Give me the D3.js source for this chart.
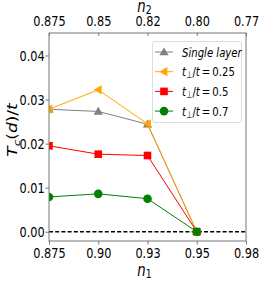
<!DOCTYPE html>
<html>
<head>
<meta charset="utf-8">
<script src="https://cdn.jsdelivr.net/npm/d3@7"></script>
<style>
  body { margin: 0; background: #fff; }
  text { font-family: "DejaVu Sans", sans-serif; }
</style>
</head>
<body>
<div id="wrapper"></div>
<script>
const n1Labels = ["0.875", "0.90", "0.93", "0.95", "0.98"];
const n2Labels = ["0.875", "0.85", "0.82", "0.80", "0.77"];
const yTicks = [0, 0.01, 0.02, 0.03, 0.04];

const singleLayer = [0.0278, 0.0273, 0.0244, 0];
const tPerp025 = [0.0278, 0.0322, 0.0245, 0];
const tPerp05 = [0.0195, 0.0176, 0.0173, 0];
const tPerp07 = [0.0079, 0.0086, 0.0075, 0];

const series = [
    { name: "single", values: singleLayer, color: "gray", marker: "up", label: "0" },
    { name: "0.25", values: tPerp025, color: "orange", marker: "left", label: "0.25" },
    { name: "0.5", values: tPerp05, color: "red", marker: "square", label: "0.5" },
    { name: "0.7", values: tPerp07, color: "green", marker: "circle", label: "0.7" }
];

const dimension = {
    width: 274,
    height: 283,
    margin: { top: 33, left: 49, bottom: 42, right: 28 }
};
dimension.boundedWidth = dimension.width - dimension.margin.left - dimension.margin.right;
dimension.boundedHeight = dimension.height - dimension.margin.top - dimension.margin.bottom;

const squeeze = 0.78;
const spineColor = "#777";

const svg = d3.select("#wrapper").append("svg")
    .attr("width", dimension.width)
    .attr("height", dimension.height);

const bounded = svg.append("g")
    .attr("transform", `translate(${dimension.margin.left},${dimension.margin.top})`);

const xScaler = d3.scalePoint()
    .domain(d3.range(n1Labels.length))
    .range([0, dimension.boundedWidth]);

const yScaler = d3.scaleLinear()
    .domain([-0.0021, 0.0451])
    .range([dimension.boundedHeight, 0]);

bounded.append("clipPath").attr("id", "clip")
    .append("rect")
    .attr("width", dimension.boundedWidth)
    .attr("height", dimension.boundedHeight);

// dashed zero line
bounded.append("line")
    .attr("x1", 0).attr("x2", dimension.boundedWidth)
    .attr("y1", yScaler(0)).attr("y2", yScaler(0))
    .attr("stroke", "black")
    .attr("stroke-width", 1.5)
    .attr("stroke-dasharray", "4,2.2");

function drawMarker(g, type, color, x, y) {
    const s = 4.2;
    if (type === "circle") {
        g.append("circle").attr("cx", x).attr("cy", y).attr("r", 4.3).attr("fill", color);
    } else if (type === "square") {
        g.append("rect").attr("x", x - 3.8).attr("y", y - 3.8)
            .attr("width", 7.6).attr("height", 7.6).attr("fill", color);
    } else if (type === "up") {
        g.append("path")
            .attr("d", `M${x},${y - s * 1.1}L${x + s * 1.1},${y + s * 0.8}L${x - s * 1.1},${y + s * 0.8}Z`)
            .attr("fill", color);
    } else if (type === "left") {
        g.append("path")
            .attr("d", `M${x - s * 1.1},${y}L${x + s * 0.8},${y - s * 1.1}L${x + s * 0.8},${y + s * 1.1}Z`)
            .attr("fill", color);
    }
}

const plotArea = bounded.append("g").attr("clip-path", "url(#clip)");

const lineGenerator = d3.line()
    .x((d, i) => xScaler(i))
    .y(d => yScaler(d));

series.forEach(s => {
    const g = plotArea.append("g");
    g.append("path")
        .attr("d", lineGenerator(s.values))
        .attr("fill", "none")
        .attr("stroke", s.color)
        .attr("stroke-width", 1);
    s.values.forEach((v, i) => drawMarker(g, s.marker, s.color, xScaler(i), yScaler(v)));
});

// frame
bounded.append("rect")
    .attr("width", dimension.boundedWidth)
    .attr("height", dimension.boundedHeight)
    .attr("fill", "none")
    .attr("stroke", spineColor)
    .attr("stroke-width", 1);

function styleAxis(g) {
    g.select(".domain").remove();
    g.selectAll(".tick line").attr("stroke", spineColor);
    g.selectAll(".tick text")
        .attr("fill", "black")
        .style("font-size", "14.5px")
        .style("font-family", "DejaVu Sans");
}

const xAxis = d3.axisBottom(xScaler)
    .tickFormat(i => n1Labels[i])
    .tickSize(3.5).tickPadding(3);
const gx = bounded.append("g")
    .attr("transform", `translate(0,${dimension.boundedHeight})`)
    .call(xAxis)
    .call(styleAxis);
gx.selectAll(".tick text").attr("transform", `scale(${squeeze},1)`);

const topAxis = d3.axisTop(xScaler)
    .tickFormat(i => n2Labels[i])
    .tickSize(-3).tickPadding(7);
const gt = bounded.append("g")
    .call(topAxis)
    .call(styleAxis);
gt.selectAll(".tick text").attr("transform", `scale(${squeeze},1)`);

const yAxis = d3.axisLeft(yScaler)
    .tickValues(yTicks)
    .tickFormat(d3.format(".2f"))
    .tickSize(3.5).tickPadding(2);
const gy = bounded.append("g")
    .call(yAxis)
    .call(styleAxis);
gy.selectAll(".tick text").attr("transform", `scale(${squeeze},1)`);

// axis labels
svg.append("text")
    .attr("transform", `translate(${xScaler(2) + dimension.margin.left - 3},276) scale(${squeeze},1)`)
    .attr("text-anchor", "middle")
    .style("font-size", "17px")
    .call(t => {
        t.append("tspan").style("font-style", "italic").text("n");
        t.append("tspan").attr("baseline-shift", "-22%").style("font-size", "12px").text("1");
    });

svg.append("text")
    .attr("transform", `translate(${xScaler(2) + dimension.margin.left - 3},12) scale(${squeeze},1)`)
    .attr("text-anchor", "middle")
    .style("font-size", "17px")
    .call(t => {
        t.append("tspan").style("font-style", "italic").text("n");
        t.append("tspan").attr("baseline-shift", "-22%").style("font-size", "12px").text("2");
    });

svg.append("text")
    .attr("transform", `translate(17,${dimension.margin.top + 97}) rotate(-90) scale(1,${squeeze})`)
    .attr("text-anchor", "middle")
    .style("font-size", "17px")
    .call(t => {
        t.append("tspan").style("font-style", "italic").text("T");
        t.append("tspan").attr("baseline-shift", "-25%").style("font-size", "12px").style("font-style", "italic").text("c");
        t.append("tspan").text("(");
        t.append("tspan").style("font-style", "italic").text("d");
        t.append("tspan").text(")/");
        t.append("tspan").style("font-style", "italic").text("t");
    });

// legend
const legend = svg.append("g").attr("transform", "translate(152,41)");
legend.append("rect")
    .attr("x", 0.5).attr("y", 0.5)
    .attr("width", 89).attr("height", 81)
    .attr("rx", 2.5)
    .attr("fill", "white").attr("fill-opacity", 0.85)
    .attr("stroke", "#ddd");

series.forEach((s, i) => {
    const y = 11 + i * 19.7;
    const row = legend.append("g");
    row.append("line")
        .attr("x1", 3).attr("x2", 21)
        .attr("y1", y).attr("y2", y)
        .attr("stroke", s.color).attr("stroke-width", 1);
    drawMarker(row, s.marker, s.color, 12, y);
    const t = row.append("text")
        .attr("transform", `translate(30,${y + 4.5}) scale(${squeeze},1)`)
        .style("font-size", "13px");
    if (s.name === "single") {
        t.append("tspan").style("font-style", "italic").text("Single layer");
    } else {
        t.append("tspan").style("font-style", "italic").text("t");
        t.append("tspan").attr("baseline-shift", "-25%").style("font-size", "9.5px").text("\u22A5");
        t.append("tspan").text("/");
        t.append("tspan").style("font-style", "italic").text("t");
        t.append("tspan").text("\u2009=\u2009" + s.label);
    }
});
</script>
</body>
</html>
